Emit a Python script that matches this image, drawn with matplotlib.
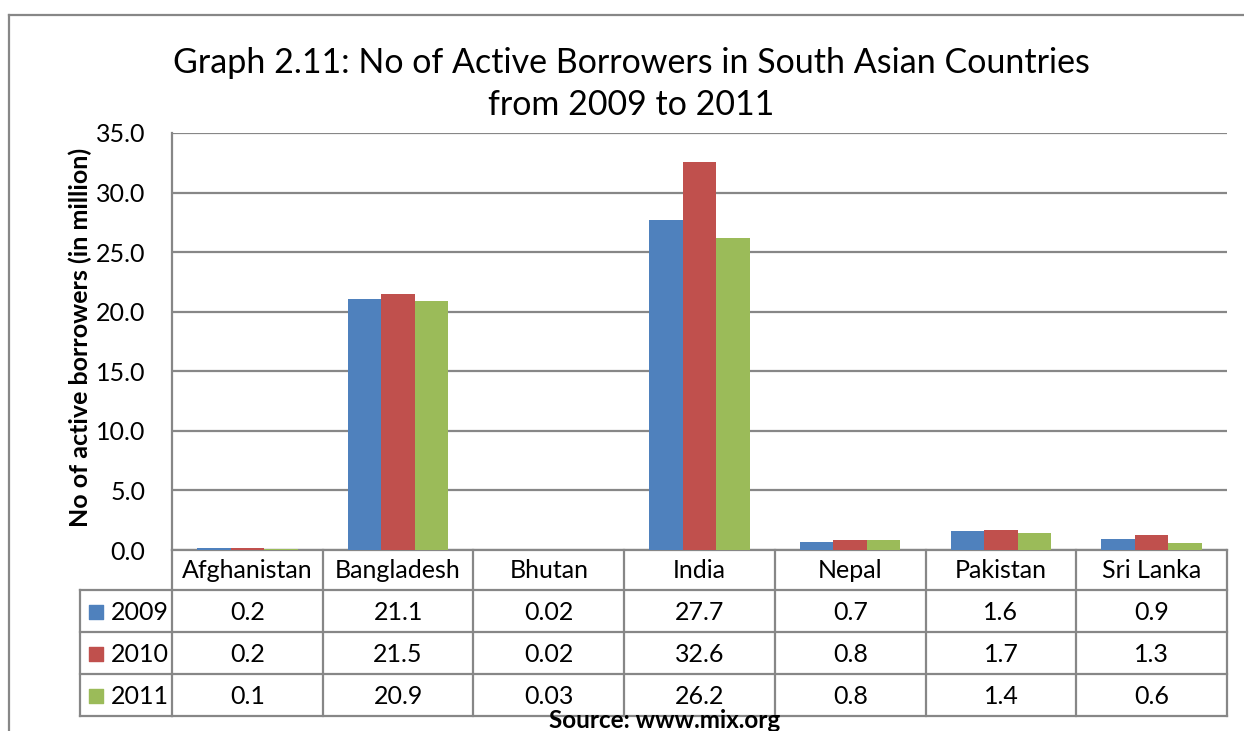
import numpy as np
import matplotlib.pyplot as plt
from matplotlib.lines import Line2D
from matplotlib.transforms import blended_transform_factory

plt.rcParams['font.family'] = ['Lato', 'DejaVu Sans']

# data
countries = ['Afghanistan', 'Bangladesh', 'Bhutan', 'India', 'Nepal', 'Pakistan', 'Sri Lanka']
years = ['2009', '2010', '2011']
v2009 = [0.2, 21.1, 0.02, 27.7, 0.7, 1.6, 0.9]
v2010 = [0.2, 21.5, 0.02, 32.6, 0.8, 1.7, 1.3]
v2011 = [0.1, 20.9, 0.03, 26.2, 0.8, 1.4, 0.6]
labels2009 = ['0.2', '21.1', '0.02', '27.7', '0.7', '1.6', '0.9']
labels2010 = ['0.2', '21.5', '0.02', '32.6', '0.8', '1.7', '1.3']
labels2011 = ['0.1', '20.9', '0.03', '26.2', '0.8', '1.4', '0.6']
colors = ['#4F81BD', '#C0504D', '#9BBB59']

W, H = 1244, 731
L, R, T, B = 172, 1227, 133, 550
grey = '#878787'

fig = plt.figure(figsize=(W / 100, H / 100), dpi=100)
ax = fig.add_axes([L / W, 1 - B / H, (R - L) / W, (B - T) / H])

def ay(py):
    return (B - py) / (B - T)

x = np.arange(len(countries))
w = 0.222
for i, (vals, c) in enumerate(zip([v2009, v2010, v2011], colors)):
    ax.bar(x + (i - 1) * w, vals, w, color=c, zorder=3)

ax.set_xlim(-0.5, len(countries) - 0.5)
ax.set_ylim(0, 35)
ax.set_yticks(np.arange(0, 36, 5))
ax.set_yticklabels([f'{t:.1f}' for t in np.arange(0, 36, 5)], fontsize=18)
ax.tick_params(axis='y', length=0, pad=19)
ax.set_xticks([])
ax.yaxis.grid(True, color=grey, lw=1.6, zorder=0)
for s in ['top', 'right']:
    ax.spines[s].set_visible(False)
for s in ['left', 'bottom']:
    ax.spines[s].set_color(grey)
    ax.spines[s].set_linewidth(1.6)
ax.set_ylabel('No of active borrowers (in million)', fontsize=18, fontweight='bold', va='center')
ax.yaxis.set_label_coords((80 - L) / (R - L), 0.51)

# data table under the chart
tr = ax.get_xaxis_transform()
trf = blended_transform_factory(fig.transFigure, ax.transAxes)
row_edges = [550, 590, 632, 674, 716]
for xe in np.arange(-0.5, len(countries), 1.0):
    ax.plot([xe, xe], [ay(550), ay(716)], color=grey, lw=1.6, transform=tr, clip_on=False)
for py in row_edges[1:]:
    ax.plot([-0.5, len(countries) - 0.5], [ay(py), ay(py)], color=grey, lw=1.6, transform=tr, clip_on=False)
    ax.plot([80 / W, L / W], [ay(py), ay(py)], color=grey, lw=1.6, transform=trf, clip_on=False)
ax.plot([80 / W, 80 / W], [ay(590), ay(716)], color=grey, lw=1.6, transform=trf, clip_on=False)

for xi, name in zip(x, countries):
    ax.text(xi, ay(571), name, ha='center', va='center', fontsize=18, transform=tr)
for r, (labs, c, yr) in enumerate(zip([labels2009, labels2010, labels2011], colors, years)):
    yc = ay((row_edges[r + 1] + row_edges[r + 2]) / 2 + 1)
    for xi, s in zip(x, labs):
        ax.text(xi, yc, s, ha='center', va='center', fontsize=18, transform=tr)
    ax.scatter([96 / W], [yc], marker='s', s=105, color=c, transform=trf, clip_on=False)
    ax.text(111 / W, yc, yr, ha='left', va='center', fontsize=18, transform=trf)

fig.text(631 / W, 1 - 84 / H, 'Graph 2.11: No of Active Borrowers in South Asian Countries\nfrom 2009 to 2011',
         ha='center', va='center', fontsize=24.5, linespacing=1.4)
fig.text(665 / W, 1 - 720 / H, 'Source: www.mix.org', ha='center', va='center', fontsize=17.5, fontweight='bold')

# outer chart frame
fig.add_artist(Line2D([9 / W, 9 / W], [0, 1 - 15 / H], color=grey, lw=1.6, transform=fig.transFigure))
fig.add_artist(Line2D([9 / W, 1], [1 - 15 / H, 1 - 15 / H], color=grey, lw=1.6, transform=fig.transFigure))

fig.savefig('out.png', dpi=100)
